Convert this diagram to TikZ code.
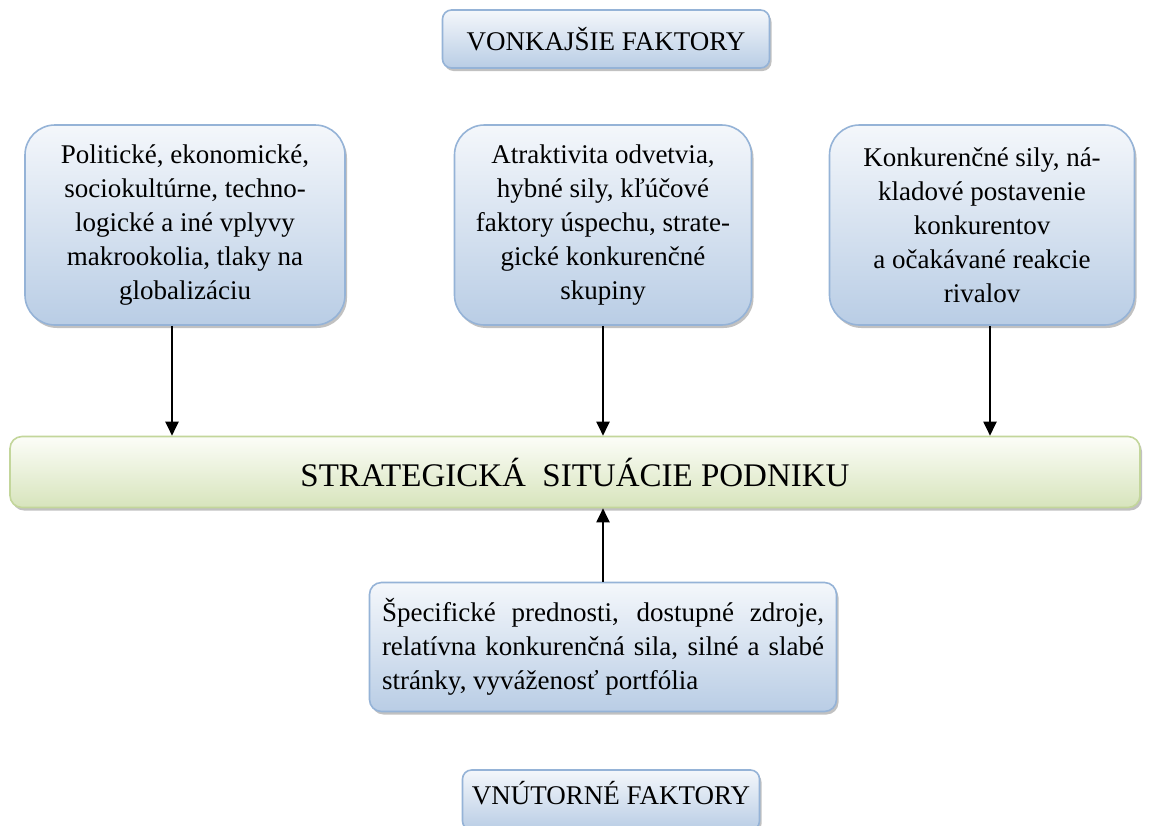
\documentclass[tikz,border=0pt]{standalone}
\usepackage{fontspec}
\setmainfont{Liberation Serif}
\usetikzlibrary{shadows,arrows.meta,calc}
\definecolor{blueedge}{HTML}{95B3D7}
\definecolor{bluetop}{HTML}{F4F7FB}
\definecolor{bluebot}{HTML}{B9CDE5}
\definecolor{greenedge}{HTML}{C3D69B}
\definecolor{greentop}{HTML}{FCFDF8}
\definecolor{greenbot}{HTML}{D7E4BC}
\tikzset{
  x=1pt, y=-1pt,
  shade/.style={drop shadow={shadow xshift=2pt, shadow yshift=-3pt, fill=black!40, opacity=0.6}},
  bluebox/.style={draw=blueedge, line width=1.6pt, top color=bluetop, bottom color=bluebot,
    shade, inner sep=0pt, font=\fontsize{27}{34}\selectfont},
  factbox/.style={bluebox, rounded corners=30pt, minimum height=200pt, align=center},
  labelbox/.style={bluebox, rounded corners=9pt, font=\fontsize{27}{32}\selectfont},
  sitbox/.style={draw=greenedge, line width=1.6pt, top color=greentop, bottom color=greenbot,
    shade, rounded corners=12pt, minimum width=1130pt, minimum height=71pt,
    font=\fontsize{33}{38}\selectfont},
  arr/.style={line width=2pt, -{Triangle[length=14pt,width=13pt]}}
}
\begin{document}
\begin{tikzpicture}
\useasboundingbox (0,0) rectangle (1150,825);
\clip (0,0) rectangle (1150,825);
\fill[white] (0,0) rectangle (1150,825);

% group labels
\node[labelbox, minimum width=327pt, minimum height=58pt] (ext) at (606,39) {VONKAJŠIE FAKTORY};
\node[labelbox, minimum width=297pt, minimum height=60pt, text depth=4pt] (int) at (611,800) {\raisebox{11pt}{VNÚTORNÉ FAKTORY}};

% external factors
\node[factbox, minimum width=320pt] (macro) at (185,225)
  {\raisebox{-4pt}{\parbox{300pt}{\centering Politické, ekonomické,\\ sociokultúrne, techno-\\ logické a iné vplyvy\\ makrookolia, tlaky na\\ globalizáciu}}};
\node[factbox, minimum width=297pt] (branch) at (603,225)
  {\raisebox{-4pt}{\parbox{290pt}{\centering Atraktivita odvetvia,\\ hybné sily, kľúčové\\ faktory úspechu, strate-\\ gické konkurenčné\\ skupiny}}};
\node[factbox, minimum width=305pt] (rivals) at (982,225)
  {\raisebox{-4pt}{\parbox{295pt}{\centering Konkurenčné sily, ná-\\ kladové postavenie\\ konkurentov\\ a očakávané reakcie\\ rivalov}}};

% central situation
\node[sitbox] (sit) at (575,472) {STRATEGICKÁ\ \ SITUÁCIE PODNIKU};

% internal factors
\node[bluebox, rounded corners=12pt, minimum width=467pt, minimum height=129pt, align=left] (own) at (603,647)
  {\makebox[442pt][s]{Špecifické prednosti, dostupné zdroje,}\\
   \makebox[442pt][s]{relatívna konkurenčná sila, silné a slabé}\\
   \makebox[442pt][l]{stránky, vyváženosť portfólia}};

% connectors
\draw[arr] ([xshift=-13pt]macro.south) -- ([xshift=-13pt]macro.south |- sit.north);
\draw[arr] (branch.south) -- (branch.south |- sit.north);
\draw[arr] ([xshift=8pt]rivals.south) -- ([xshift=8pt]rivals.south |- sit.north);
\draw[arr] (own.north) -- (own.north |- sit.south);
\end{tikzpicture}
\end{document}
